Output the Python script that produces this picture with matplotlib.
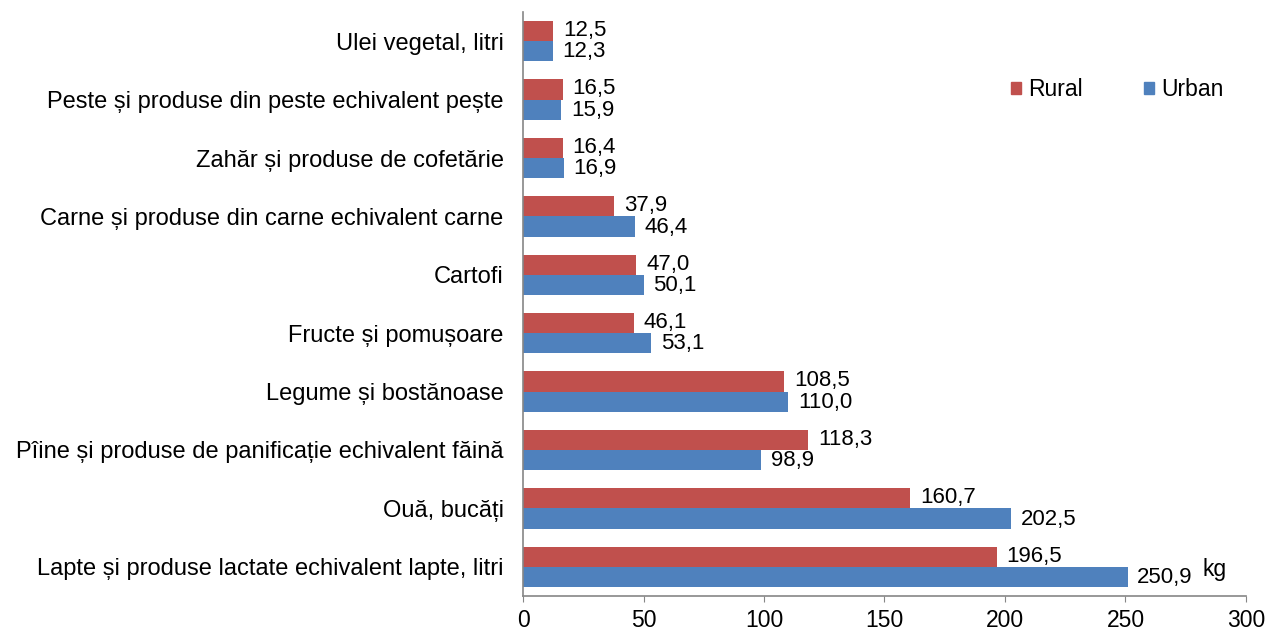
import matplotlib
matplotlib.use("Agg")
import matplotlib.pyplot as plt
import numpy as np
from matplotlib.patches import Patch

plt.rcParams['font.family'] = ['Liberation Sans', 'DejaVu Sans']

categories = [
    "Lapte și produse lactate echivalent lapte, litri",
    "Ouă, bucăți",
    "Pîine și produse de panificație echivalent făină",
    "Legume și bostănoase",
    "Fructe și pomușoare",
    "Cartofi",
    "Carne și produse din carne echivalent carne",
    "Zahăr și produse de cofetărie",
    "Peste și produse din peste echivalent pește",
    "Ulei vegetal, litri",
]
rural = [196.5, 160.7, 118.3, 108.5, 46.1, 47.0, 37.9, 16.4, 16.5, 12.5]
urban = [250.9, 202.5, 98.9, 110.0, 53.1, 50.1, 46.4, 16.9, 15.9, 12.3]
xticks = [0, 50, 100, 150, 200, 250, 300]

RED = "#C0504D"
BLUE = "#4F81BD"
GREY = "#868686"

fig = plt.figure(figsize=(12.71, 6.33), dpi=100)
ax = fig.add_axes([0.4115, 0.0585, 0.5688, 0.9225])

y = np.arange(len(categories))
h = 0.345
ax.barh(y + h / 2, rural, height=h, color=RED, label="Rural")
ax.barh(y - h / 2, urban, height=h, color=BLUE, label="Urban")

fs = 16.5
vfs = 16
for yi, v in zip(y, rural):
    ax.annotate(f"{v:.1f}".replace(".", ","), (v, yi + h / 2), xytext=(7, 0.5),
                textcoords="offset points", va="center", ha="left", fontsize=vfs)
for yi, v in zip(y, urban):
    ax.annotate(f"{v:.1f}".replace(".", ","), (v, yi - h / 2), xytext=(7, -0.5),
                textcoords="offset points", va="center", ha="left", fontsize=vfs)

ax.set_xlim(0, 300)
ax.set_ylim(-0.5, len(categories) - 0.5)
ax.set_xticks(xticks)
ax.set_xticklabels([str(t) for t in xticks], fontsize=fs)
ax.set_yticks(y)
ax.set_yticklabels(categories, fontsize=17)
ax.tick_params(axis='y', length=0, pad=14)
ax.tick_params(axis='x', length=4.5, color=GREY, direction='out', pad=5)

for s in ['top', 'right']:
    ax.spines[s].set_visible(False)
for s in ['left', 'bottom']:
    ax.spines[s].set_color(GREY)
    ax.spines[s].set_linewidth(1.2)

ax.text(0.957, 0.045, "kg", transform=ax.transAxes, fontsize=fs, ha="center", va="center")

handles = [Patch(color=RED, label="Rural"), Patch(color=BLUE, label="Urban")]
fig.legend(handles=handles, loc="center", bbox_to_anchor=(0.879, 0.858), ncol=2,
           frameon=False, fontsize=fs, handlelength=0.44, handleheight=0.44,
           handletextpad=0.3, columnspacing=2.7)

fig.savefig("out.png", dpi=100)
